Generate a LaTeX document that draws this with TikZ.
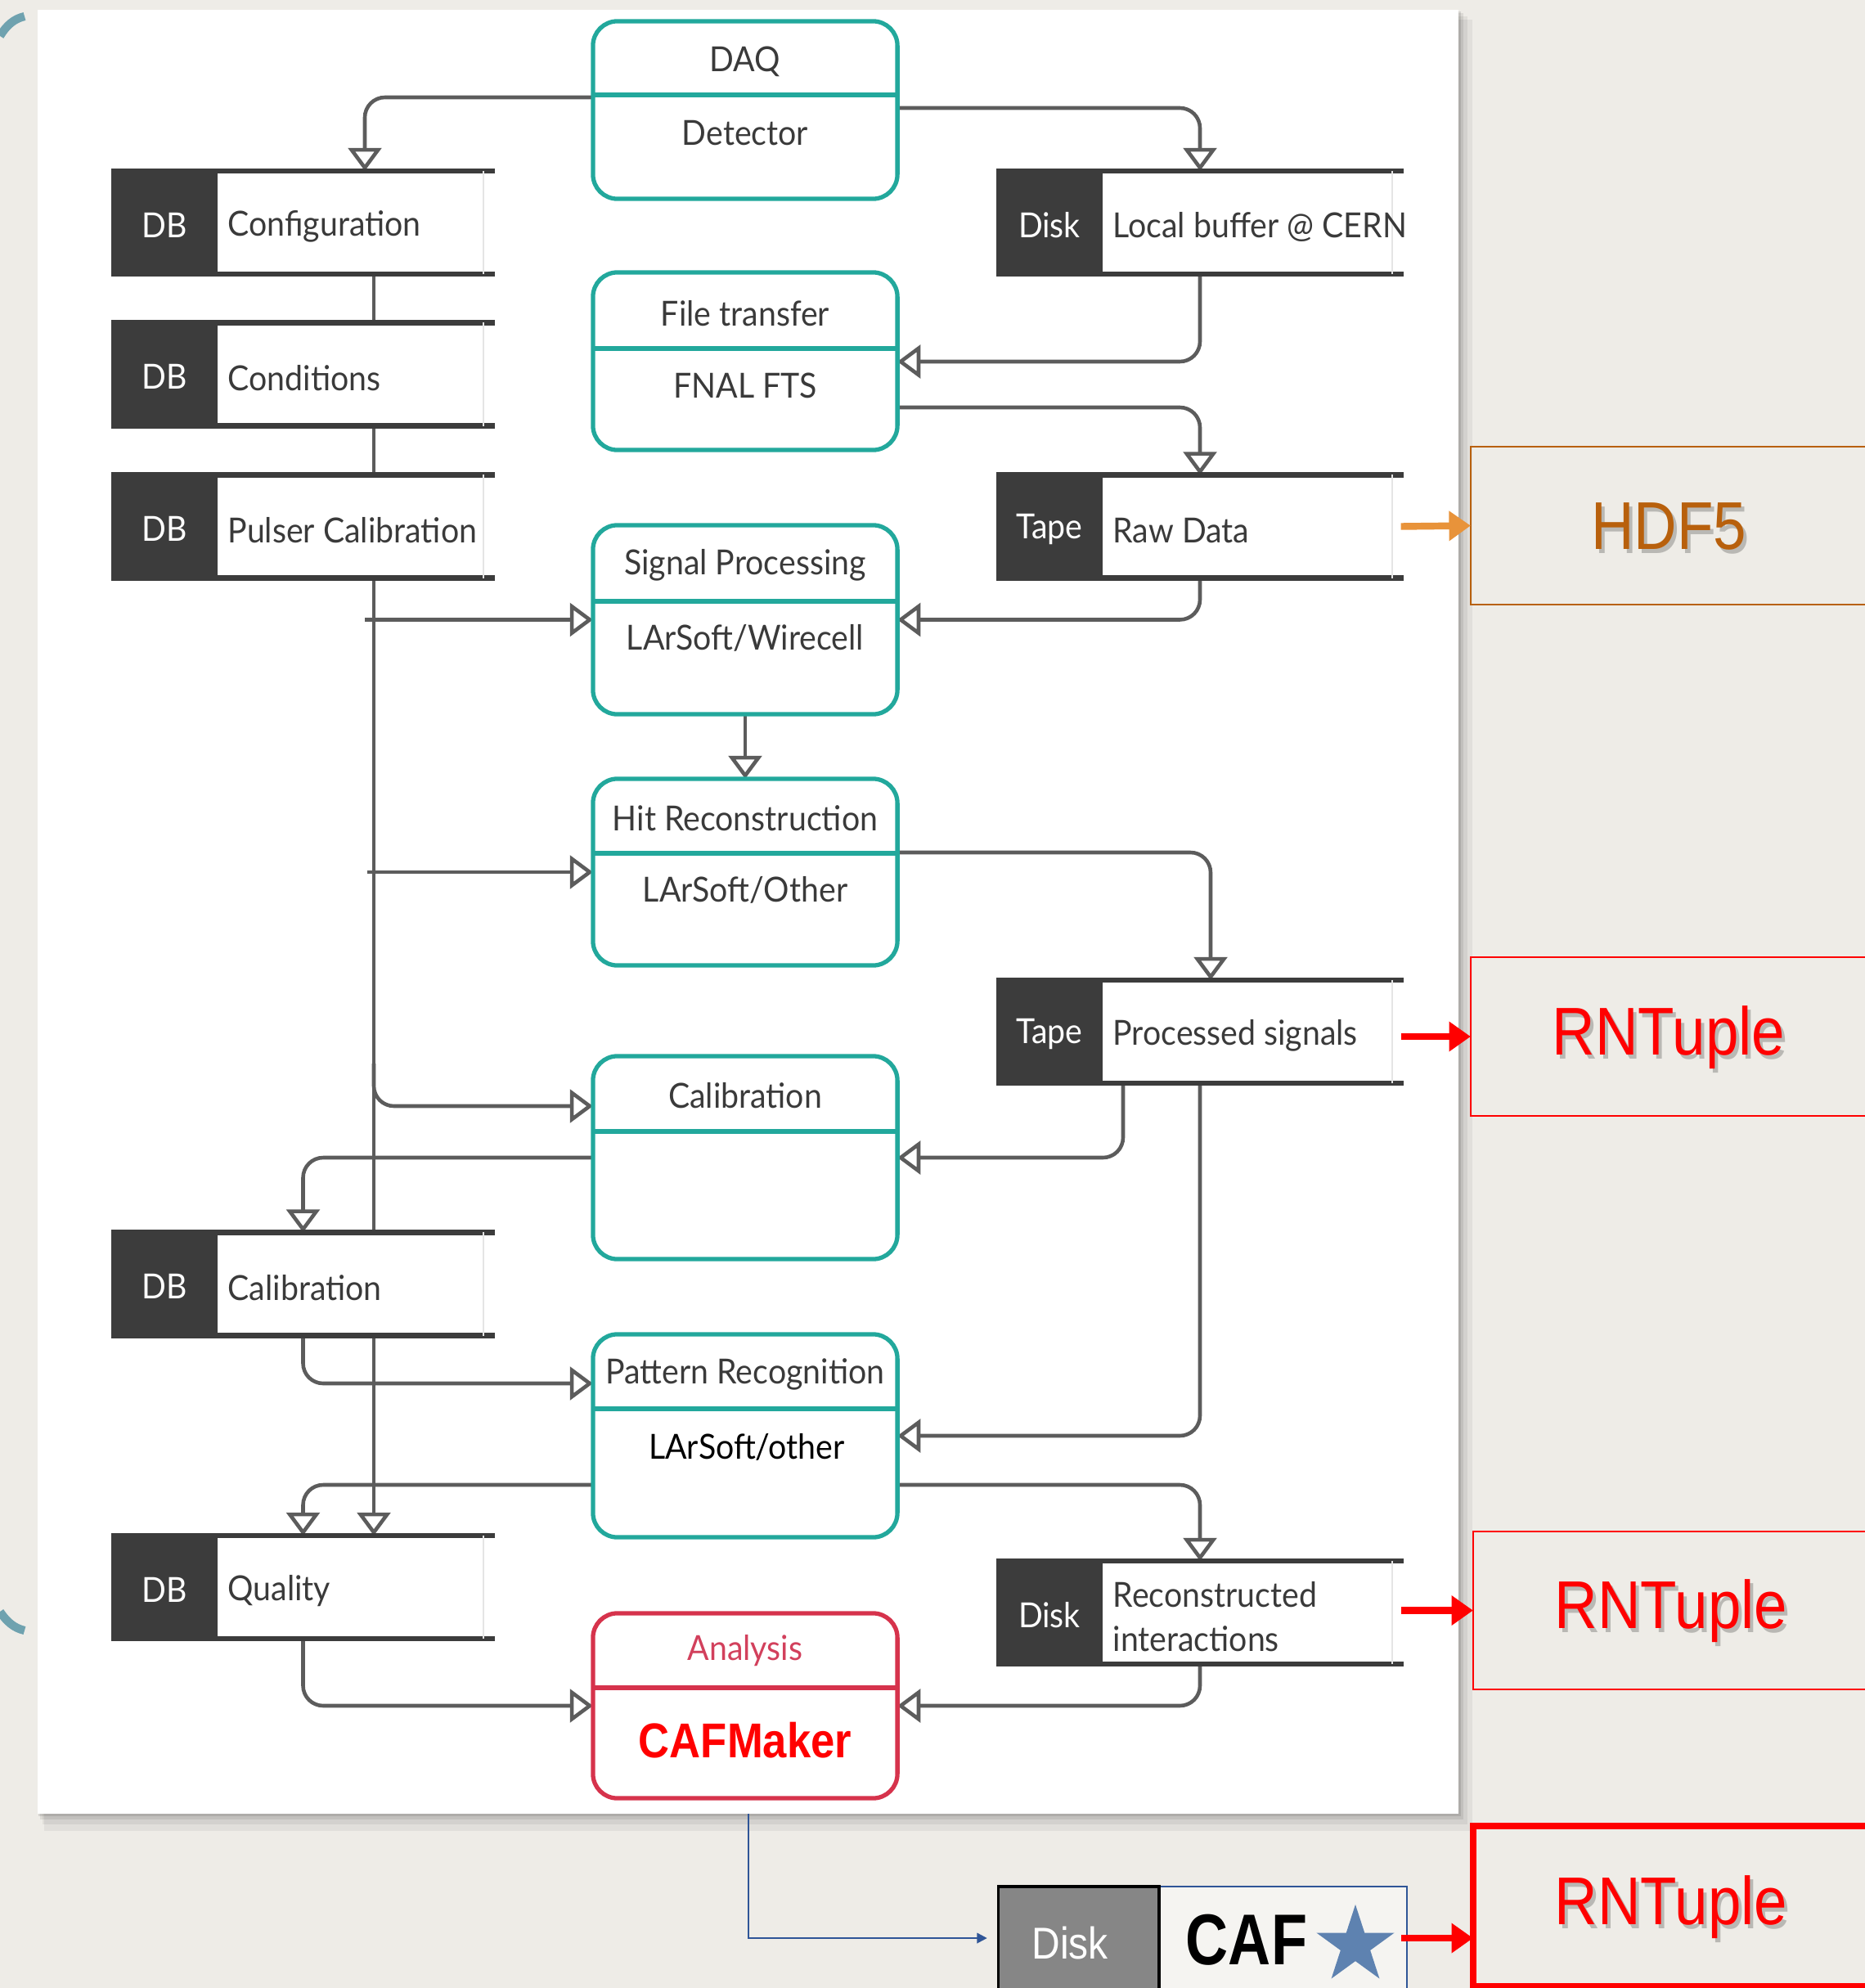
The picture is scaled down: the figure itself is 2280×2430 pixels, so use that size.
\documentclass[tikz,border=0pt]{standalone}
\usepackage{fontspec}
\setmainfont{Lato}
\newfontfamily\latof{Lato}[FakeStretch=0.93]
\newfontfamily\arialf{Liberation Sans}[FakeStretch=0.88]
\newfontfamily\arialn{Liberation Sans}[FakeStretch=0.82]
\usetikzlibrary{arrows.meta,shapes.geometric}
\definecolor{bgc}{HTML}{EEECE7}
\definecolor{boxteal}{HTML}{22A89C}
\definecolor{connc}{HTML}{5C5C5C}
\definecolor{txtc}{HTML}{3A3A3A}
\definecolor{darkc}{HTML}{3C3C3C}
\definecolor{redbox}{HTML}{D6334C}
\definecolor{anac}{HTML}{D2405C}
\definecolor{hdfc}{HTML}{B8600C}
\definecolor{hdfarr}{HTML}{E8933A}
\definecolor{redc}{HTML}{FF0000}
\definecolor{bluec}{HTML}{2F5597}
\definecolor{diskgray}{HTML}{868686}
\definecolor{starc}{HTML}{5E82B0}
\definecolor{arcc}{HTML}{6FA2AF}
\pgfdeclarelayer{back}
\pgfdeclarelayer{conn}
\pgfsetlayers{back,conn,main}
\tikzset{
  conn/.style={draw=connc, line width=1.3pt, rounded corners=7pt},
  opentip/.style={-{Triangle[open,length=8pt,width=11.5pt]}},
  proc/.style={draw=boxteal, line width=1.5pt, rounded corners=8.5pt, fill=white, minimum width=3.72cm, inner sep=0pt, outer sep=0pt},
  divider/.style={draw=boxteal, line width=1.5pt},
  store/.style={minimum height=1.26cm, inner sep=0pt, outer sep=0pt, fill=white},
  storeline/.style={draw=darkc, line width=1.8pt},
  lbl/.style={font=\latof\fontsize{12}{16}\selectfont, text=txtc, inner sep=0pt},
  tagtext/.style={font=\latof\fontsize{12}{16}\selectfont, text=white, inner sep=0pt},
  fmttext/.style={font=\arialf\fontsize{23.5}{28}\selectfont, inner sep=0pt},
  fmtbox/.style={minimum width=5cm, inner sep=0pt, outer sep=0pt},
  fatarrow/.style={line width=2.4pt, -{Triangle[length=7.5pt,width=10pt]}},
}
\newcommand\mystore[6]{%
  \node[store, minimum width=#4cm] (#1) at (#2,#3) {};
  \fill[darkc] (#1.north west) rectangle ([xshift=1.3cm]#1.south west);
  \draw[storeline] (#1.north west) -- (#1.north east);
  \draw[storeline] (#1.south west) -- (#1.south east);
  \draw[black!10, line width=0.5pt] ([xshift=-4pt]#1.north east) -- ([xshift=-4pt]#1.south east);
  \node[tagtext] at ([xshift=0.65cm,yshift=-0.03cm]#1.west) {#5};
  \node[lbl, anchor=west, align=left] at ([xshift=1.42cm,yshift=-0.05cm]#1.west) {#6};
}
\begin{document}
\begin{tikzpicture}[x=0.01cm,y=-0.01cm]
\useasboundingbox (0,0) rectangle (2280,2430);
\begin{pgfonlayer}{back}
  \fill[bgc] (0,0) rectangle (2280,2430);
  \draw[arcc, line width=2.9pt] (0,44) .. controls (8,31) and (17,23) .. (30,20);
  \draw[arcc, line width=2.9pt] (0,1970) .. controls (8,1982) and (17,1990) .. (30,1993);
  \fill[black, opacity=0.05] (54,24) rectangle (1800,2238);
  \fill[black, opacity=0.06] (52,20) rectangle (1794,2230);
  \fill[black, opacity=0.08] (49,16) rectangle (1789,2224);
  \fill[black, opacity=0.10] (47,14) rectangle (1786,2220);
  \fill[white] (46,12) rectangle (1783,2217);
\end{pgfonlayer}
\coordinate (pbot) at (915,2217);

% process boxes
\node[proc, minimum height=2.17cm] (daq) at (911,134.5) {};
\draw[divider] (daq.west |- 0,116) -- (daq.east |- 0,116);
\node[lbl] at (911,75) {DAQ};
\node[lbl] at (911,163) {Detector};

\node[proc, minimum height=2.17cm] (ft) at (911,441.5) {};
\draw[divider] (ft.west |- 0,426) -- (ft.east |- 0,426);
\node[lbl] at (911,383) {File transfer};
\node[lbl] at (911,471) {FNAL FTS};

\node[proc, minimum height=2.31cm] (sp) at (911,757.5) {};
\draw[divider] (sp.west |- 0,735) -- (sp.east |- 0,735);
\node[lbl] at (911,691) {Signal Processing};
\node[lbl] at (911,780) {LArSoft/Wirecell};

\node[proc, minimum height=2.28cm] (hr) at (911,1066) {};
\draw[divider] (hr.west |- 0,1043) -- (hr.east |- 0,1043);
\node[lbl] at (911,1000) {Hit Reconstruction};
\node[lbl] at (911,1088) {LArSoft/Other};

\node[proc, minimum height=2.48cm] (cal) at (911,1415) {};
\draw[divider] (cal.west |- 0,1383) -- (cal.east |- 0,1383);
\node[lbl] at (911,1339) {Calibration};

\node[proc, minimum height=2.48cm] (pr) at (911,1755) {};
\draw[divider] (pr.west |- 0,1722) -- (pr.east |- 0,1722);
\node[lbl] at (911,1680) {Pattern Recognition};
\node[lbl, text=black] at (913,1769) {LArSoft/other};

\node[proc, draw=redbox, minimum height=2.26cm] (ana) at (911,2085) {};
\draw[divider, draw=redbox] (ana.west |- 0,2063) -- (ana.east |- 0,2063);
\node[lbl, text=anac] at (911,2018) {Analysis};
\node[font=\arialf\bfseries\fontsize{17}{20}\selectfont, text=redc, inner sep=0pt] at (911,2127) {CAFMaker};

% data stores
\mystore{cfg}{370.5}{272}{4.69}{DB}{Configuration}
\mystore{cond}{370.5}{457.5}{4.69}{DB}{Conditions}
\mystore{pulser}{370.5}{643.5}{4.69}{DB}{Pulser Calibration}
\mystore{dbcal}{370.5}{1569.5}{4.69}{DB}{Calibration}
\mystore{quality}{370.5}{1940}{4.69}{DB}{Quality}
\mystore{lb}{1467}{272}{4.98}{Disk}{Local buffer @ CERN}
\mystore{raw}{1467}{643.5}{4.98}{Tape}{Raw Data}
\mystore{ps}{1467}{1261}{4.98}{Tape}{Processed signals}
\mystore{rec}{1467}{1971}{4.98}{Disk}{Reconstructed\\[-0.5pt]interactions}

% connectors
\begin{pgfonlayer}{conn}
  \draw[conn, opentip] (daq.west |- 0,119) -| (cfg.north -| 446,0);
  \draw[conn, opentip] (daq.east |- 0,132) -| (lb.north);
  \draw[conn, opentip] (lb.south) |- (ft.east |- 0,442);
  \draw[conn, opentip] (ft.east |- 0,498) -| (raw.north);
  \draw[conn, opentip] (raw.south) |- (sp.east);
  \draw[conn] (cfg.south -| 457,0) -- (cond.north -| 457,0);
  \draw[conn] (cond.south -| 457,0) -- (pulser.north -| 457,0);
  \draw[conn, opentip] (pulser.south -| 457,0) -- (quality.north -| 457,0);
  \draw[conn, opentip] (sp.west -| 446,0) -- (sp.west);
  \draw[conn, opentip] (sp.south) -- (hr.north);
  \draw[conn, opentip] (hr.west -| 449,0) -- (hr.west);
  \draw[conn, opentip] (hr.east |- 0,1042) -| (ps.north -| 1480,0);
  \draw[conn, opentip] (457,1300) |- (cal.west |- 0,1352);
  \draw[conn, opentip] (cal.west) -| (dbcal.north);
  \draw[conn, opentip] (ps.south -| 1373,0) |- (cal.east);
  \draw[conn, opentip] (ps.south) |- (pr.east);
  \draw[conn, opentip] (dbcal.south) |- (pr.west |- 0,1691);
  \draw[conn, opentip] (pr.west |- 0,1815) -| (quality.north);
  \draw[conn, opentip] (pr.east |- 0,1815) -| (rec.north);
  \draw[conn, opentip] (quality.south) |- (ana.west);
  \draw[conn, opentip] (rec.south) |- (ana.east);
\end{pgfonlayer}

% format boxes
\node[fmtbox, minimum height=1.93cm] (hdf) at (2048,642.5) {};
\draw[hdfc, line width=0.7pt] ([xshift=3cm]hdf.north east) -- (hdf.north west) -- (hdf.south west) -- ([xshift=3cm]hdf.south east);
\node[fmttext, text=black, opacity=0.22] at (2044,648) {HDF5};
\node[fmttext, text=hdfc] at (2040,643) {HDF5};

\node[fmtbox, minimum height=1.94cm] (rnt1) at (2048,1267) {};
\draw[redc, line width=0.7pt] ([xshift=3cm]rnt1.north east) -- (rnt1.north west) -- (rnt1.south west) -- ([xshift=3cm]rnt1.south east);
\node[fmttext, text=black, opacity=0.22] at (2044,1273) {RNTuple};
\node[fmttext, text=redc] at (2040,1268) {RNTuple};

\node[fmtbox, minimum height=1.93cm] (rnt2) at (2051,1968.5) {};
\draw[redc, line width=0.7pt] ([xshift=3cm]rnt2.north east) -- (rnt2.north west) -- (rnt2.south west) -- ([xshift=3cm]rnt2.south east);
\node[fmttext, text=black, opacity=0.22] at (2047,1974) {RNTuple};
\node[fmttext, text=redc] at (2043,1969) {RNTuple};

\node[fmtbox, minimum height=1.96cm] (rnt3) at (2051,2330) {};
\draw[redc, line width=2.4pt] ([xshift=3cm]rnt3.north east) -- (rnt3.north west) -- (rnt3.south west) -- ([xshift=3cm]rnt3.south east);
\node[fmttext, text=black, opacity=0.22] at (2047,2336) {RNTuple};
\node[fmttext, text=redc] at (2043,2331) {RNTuple};

% CAF box
\node[minimum width=4.99cm, minimum height=1.26cm, inner sep=0pt, outer sep=0pt, fill=white!40!bgc] (caf) at (1470.5,2369) {};
\fill[diskgray] (caf.north west) rectangle ([xshift=1.96cm]caf.south west);
\draw[bluec, line width=0.7pt] ([xshift=1.96cm]caf.south west) -- ([xshift=1.96cm]caf.north west) -- (caf.north east) -- (caf.south east);
\draw[black, line width=0.9pt] ([xshift=1.96cm]caf.south west) -- ([xshift=1.96cm]caf.north west) -- (caf.north west) -- (caf.south west);
\node[font=\arialf\fontsize{15.5}{18}\selectfont, text=white, inner sep=0pt] at (1308,2375) {Disk};
\node[font=\arialn\bfseries\fontsize{25}{28}\selectfont, text=black, inner sep=0pt] at (1524,2371) {CAF};
\node[star, star points=5, star point ratio=2.618, fill=starc, minimum size=1.0cm, inner sep=0pt] (starn) at (1657,2378) {};

% arrows to formats
\draw[hdfarr, fatarrow] ([xshift=-1pt]raw.east) -- (hdf.west);
\draw[redc, fatarrow] ([xshift=-1pt]ps.east |- rnt1.west) -- (rnt1.west);
\draw[redc, fatarrow] ([xshift=-1pt]rec.east |- rnt2.west) -- (rnt2.west);
\draw[redc, fatarrow] ([xshift=-2pt]caf.east) -- (caf.east -| rnt3.west);
\draw[bluec, line width=0.7pt, -{Triangle[length=3.5pt,width=3.5pt]}, shorten >=4pt] (pbot) |- (caf.west);
\end{tikzpicture}
\end{document}
